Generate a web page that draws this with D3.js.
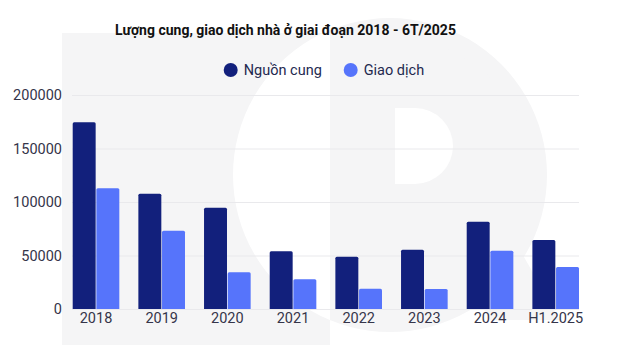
<!DOCTYPE html>
<html>
<head>
<meta charset="utf-8">
<script src="https://cdn.jsdelivr.net/npm/d3@7"></script>
<style>
  html, body { margin: 0; padding: 0; background: #fff; }
  svg { display: block; font-family: Roboto, "Noto Sans", sans-serif; }
</style>
</head>
<body>
<div id="chart"></div>
<script>
const categories = ["2018", "2019", "2020", "2021", "2022", "2023", "2024", "H1.2025"];
const supply = [174500, 107800, 94700, 53900, 48900, 55400, 81600, 64500];
const sales = [112800, 73200, 34300, 27700, 19000, 18700, 54500, 39300];
const seriesNames = ["Nguồn cung", "Giao dịch"];
const yTicks = [0, 50000, 100000, 150000, 200000];

const w = 624, h = 352;
const colors = ["#12207c", "#5674fb"];

const svg = d3.select("#chart").append("svg")
  .attr("width", w)
  .attr("height", h);

// faint logo watermark in the background
const wm = svg.append("g").attr("fill", "#f5f5f6");
wm.append("path")
  .attr("fill-rule", "evenodd")
  .attr("d", "M62,33 H330 V345 H62 Z M547,175 A157,157 0 1 0 547,175.1 Z");
wm.append("path")
  .attr("d", "M395,37 A147,147 0 0 1 520,250 L560,320 H490 L455,260 L395,260 Z");
wm.append("path")
  .attr("fill", "#fff")
  .attr("d", "M395,108 H415 A38,38 0 0 1 415,184 H395 Z");

const x0 = d3.scaleBand()
  .domain(categories)
  .range([72.7, 579])
  .paddingInner(0.29)
  .paddingOuter(0);

const x1 = d3.scaleBand()
  .domain([0, 1])
  .range([0, x0.bandwidth()])
  .paddingInner(0.03);

const y = d3.scaleLinear()
  .domain([0, 200000])
  .range([309, 95]);

// gridlines
svg.append("g")
  .selectAll("line")
  .data(yTicks)
  .join("line")
    .attr("x1", 72)
    .attr("x2", 579)
    .attr("y1", d => y(d) + 0.5)
    .attr("y2", d => y(d) + 0.5)
    .attr("stroke", "#e9e9ec")
    .attr("stroke-width", 1);

// y axis labels
const yAxis = d3.axisLeft(y).tickValues(yTicks).tickSize(0).tickPadding(0).tickFormat(d3.format("d"));
svg.append("g")
  .attr("transform", "translate(62,0)")
  .call(yAxis)
  .call(g => g.select(".domain").remove())
  .selectAll("text")
    .attr("font-size", 14.5)
    .attr("fill", "#35354a")
    .attr("font-family", "Roboto, sans-serif");

// x axis labels
const xAxis = d3.axisBottom(x0).tickSize(0).tickPadding(0);
svg.append("g")
  .attr("transform", "translate(0,313)")
  .call(xAxis)
  .call(g => g.select(".domain").remove())
  .selectAll("text")
    .attr("font-size", 14.5)
    .attr("fill", "#35354a")
    .attr("font-family", "Roboto, sans-serif");

// bars
const rows = categories.map((c, i) => ({cat: c, vals: [supply[i], sales[i]]}));
svg.append("g")
  .selectAll("g")
  .data(rows)
  .join("g")
    .attr("transform", d => "translate(" + x0(d.cat) + ",0)")
  .selectAll("path")
  .data(d => d.vals.map((v, k) => ({k: k, v: v})))
  .join("path")
    .attr("fill", d => colors[d.k])
    .attr("d", d => {
      const bx = x1(d.k), bw = x1.bandwidth();
      const top = y(d.v), bot = y(0), r = 1.5;
      return "M" + bx + "," + bot + "V" + (top + r) +
        "Q" + bx + "," + top + " " + (bx + r) + "," + top +
        "H" + (bx + bw - r) +
        "Q" + (bx + bw) + "," + top + " " + (bx + bw) + "," + (top + r) +
        "V" + bot + "Z";
    });

// title
svg.append("text")
  .attr("x", 285.5)
  .attr("y", 35)
  .attr("text-anchor", "middle")
  .attr("font-size", 14)
  .attr("font-weight", "bold")
  .attr("fill", "#111")
  .text("Lượng cung, giao dịch nhà ở giai đoạn 2018 - 6T/2025");

// legend
const legendX = [230.7, 350.7];
const legend = svg.append("g")
  .selectAll("g")
  .data(seriesNames)
  .join("g")
    .attr("transform", (d, i) => "translate(" + legendX[i] + ",70)");
legend.append("circle")
  .attr("r", 7)
  .attr("fill", (d, i) => colors[i]);
legend.append("text")
  .attr("x", 13)
  .attr("dy", "0.35em")
  .attr("font-size", 14.5)
  .attr("fill", "#23294f")
  .text(d => d);
</script>
</body>
</html>
